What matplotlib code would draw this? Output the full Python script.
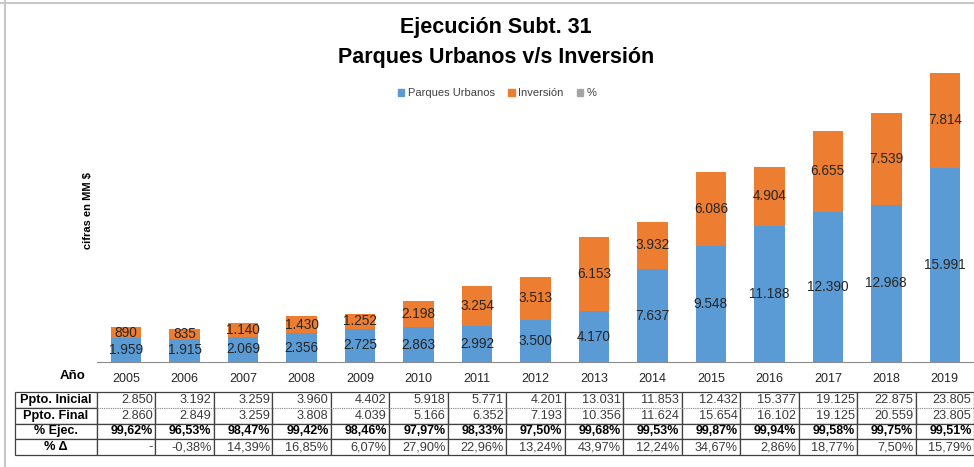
import matplotlib
matplotlib.use("Agg")
import matplotlib.pyplot as plt
from matplotlib.patches import Patch
from matplotlib.lines import Line2D

# data
years = [2005, 2006, 2007, 2008, 2009, 2010, 2011, 2012, 2013, 2014, 2015, 2016, 2017, 2018, 2019]
parques = [1959, 1915, 2069, 2356, 2725, 2863, 2992, 3500, 4170, 7637, 9548, 11188, 12390, 12968, 15991]
inversion = [890, 835, 1140, 1430, 1252, 2198, 3254, 3513, 6153, 3932, 6086, 4904, 6655, 7539, 7814]
ppto_inicial = [2850, 3192, 3259, 3960, 4402, 5918, 5771, 4201, 13031, 11853, 12432, 15377, 19125, 22875, 23805]
ppto_final = [2860, 2849, 3259, 3808, 4039, 5166, 6352, 7193, 10356, 11624, 15654, 16102, 19125, 20559, 23805]
pct_ejec = ["99,62%", "96,53%", "98,47%", "99,42%", "98,46%", "97,97%", "98,33%", "97,50%",
            "99,68%", "99,53%", "99,87%", "99,94%", "99,58%", "99,75%", "99,51%"]
pct_delta = ["-", "-0,38%", "14,39%", "16,85%", "6,07%", "27,90%", "22,96%", "13,24%",
             "43,97%", "12,24%", "34,67%", "2,86%", "18,77%", "7,50%", "15,79%"]
row_names = ["Ppto. Inicial", "Ppto. Final", "% Ejec.", "% Δ"]

BLUE = "#5b9bd5"
ORANGE = "#ed7d31"
GRAY = "#a5a5a5"
plt.rcParams["font.family"] = ["Liberation Sans", "DejaVu Sans"]


def miles(v):
    return f"{v:,}".replace(",", ".")


W, H = 974, 467
fig = plt.figure(figsize=(W / 100, H / 100), dpi=100)

# outer border of the original picture
fig.add_artist(Line2D([0, 1], [1 - 3 / H, 1 - 3 / H], color="#c8c8c8", lw=1.5))
fig.add_artist(Line2D([5 / W, 5 / W], [0, 1], color="#c8c8c8", lw=1.5))

# bars
ax = fig.add_axes([97 / W, (H - 362) / H, 877 / W, (362 - 60) / H])
x = list(range(len(years)))
b1 = ax.bar(x, parques, width=0.52, color=BLUE)
b2 = ax.bar(x, inversion, width=0.52, bottom=parques, color=ORANGE)
ax.bar_label(b1, labels=[miles(v) for v in parques], label_type="center", fontsize=9.8, color="#262626")
ax.bar_label(b2, labels=[miles(v) for v in inversion], label_type="center", fontsize=9.8, color="#262626")
ax.set_xlim(-0.5, len(years) - 0.5)
ax.set_ylim(0, 24880)
ax.set_xticks(x)
ax.set_xticklabels([str(y) for y in years], fontsize=9, color="#262626")
ax.tick_params(axis="x", length=0, pad=8)
ax.set_yticks([])
for s in ["top", "right", "left"]:
    ax.spines[s].set_visible(False)
ax.spines["bottom"].set_color("#8c8c8c")

fig.text(73 / W, 1 - 376 / H, "Año", ha="center", va="center", fontsize=9.5, fontweight="bold")
fig.text(88 / W, 1 - 211 / H, "cifras en MM $", rotation=90, ha="center", va="center",
         fontsize=8, fontweight="bold")

# titles and legend
fig.text(496 / W, 1 - 28 / H, "Ejecución Subt. 31", ha="center", va="center",
         fontsize=15.5, fontweight="bold")
fig.text(496 / W, 1 - 58 / H, "Parques Urbanos v/s Inversión", ha="center", va="center",
         fontsize=15.5, fontweight="bold")
handles = [Patch(color=BLUE, label="Parques Urbanos"),
           Patch(color=ORANGE, label="Inversión"),
           Patch(color=GRAY, label="%")]
fig.legend(handles=handles, loc="center", bbox_to_anchor=(497 / W, 1 - 93 / H), ncol=3,
           frameon=False, handlelength=0.6, handleheight=0.6, handletextpad=0.3, columnspacing=1.2,
           prop={"size": 8}, labelcolor="#404040")

# data table
tax = fig.add_axes([15 / W, (H - 455) / H, 959 / W, 63 / H])
tax.axis("off")
rows = [[miles(v) for v in ppto_inicial],
        [miles(v) for v in ppto_final],
        pct_ejec,
        pct_delta]
cells = [[name] + r for name, r in zip(row_names, rows)]
first_w = 82 / 959
col_w = [first_w] + [(1 - first_w) / len(years)] * len(years)
tbl = tax.table(cellText=cells, colWidths=col_w, bbox=[0, 0, 1, 1], cellLoc="right")
tbl.auto_set_font_size(False)
for (r, c), cell in tbl.get_celld().items():
    cell.set_edgecolor("#404040")
    cell.set_linewidth(0.9)
    txt = cell.get_text()
    txt.set_fontsize(9.2)
    txt.set_color("#3a3a3a")
    cell.PAD = 0.04
    if c == 0:
        txt.set_ha("center")
        cell._loc = "center"
        txt.set_fontweight("bold")
        txt.set_color("black")
    elif r == 0:
        cell.visible_edges = "TLR"
    elif r == 1:
        cell.visible_edges = "BLR"
    if r == 2:
        txt.set_fontweight("bold")
        txt.set_fontsize(9)
        txt.set_color("black")

# dotted separation between the two budget rows
tax.plot([first_w, 1], [0.75, 0.75], transform=tax.transAxes, color="#808080",
         lw=0.8, ls=(0, (1, 1)), clip_on=False)

fig.savefig("out.png", dpi=100)
